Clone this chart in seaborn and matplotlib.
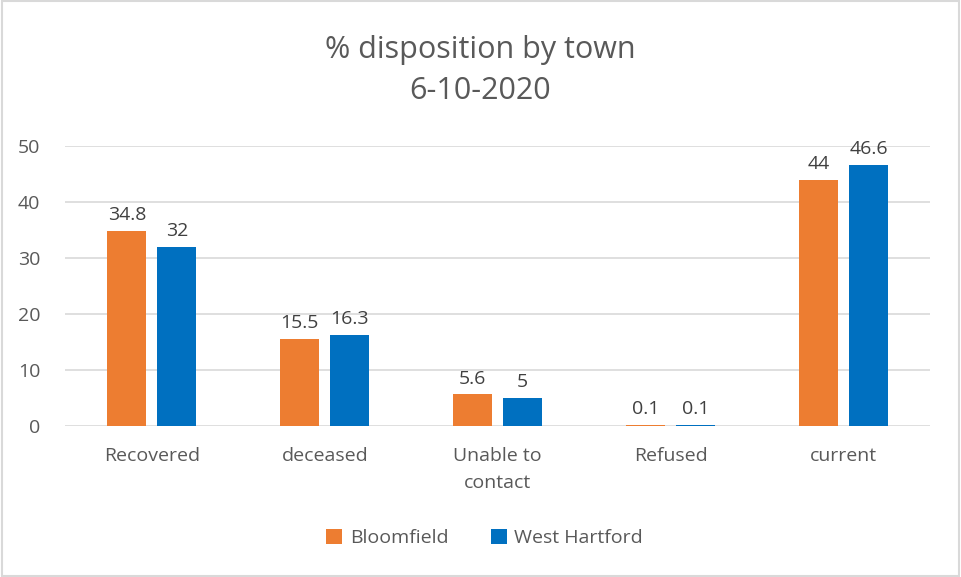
import pandas as pd
import matplotlib.pyplot as plt
import seaborn as sns
from matplotlib.patches import Rectangle

# data
categories = ["Recovered", "deceased", "Unable to\ncontact", "Refused", "current"]
bloomfield = [34.8, 15.5, 5.6, 0.1, 44]
west_hartford = [32, 16.3, 5, 0.1, 46.6]
towns = ["Bloomfield", "West Hartford"]
colors = ["#ED7D31", "#0070C0"]

df = pd.DataFrame({
    "category": categories * 2,
    "town": [towns[0]] * len(categories) + [towns[1]] * len(categories),
    "value": bloomfield + west_hartford,
})

sns.set_style("white")
plt.rcParams["font.family"] = ["Open Sans", "DejaVu Sans"]
text_color = "#595959"

fig = plt.figure(figsize=(9.61, 5.77), dpi=100)
ax = fig.add_axes([0.068, 0.262, 0.9, 0.485])

sns.barplot(data=df, x="category", y="value", hue="town", palette=colors,
            width=0.578, gap=0.22, ax=ax, saturation=1, legend=True, linewidth=0)

# data labels
for cont in ax.containers:
    ax.bar_label(cont, labels=[f"{v:g}" for v in cont.datavalues],
                 padding=5, fontsize=14, color="#404040")

ax.set_ylim(0, 50)
ax.set_yticks(range(0, 51, 10))
ax.set_xlim(-0.5, len(categories) - 0.5)
ax.yaxis.grid(True, color="#D9D9D9", linewidth=1.2)
ax.set_axisbelow(True)
for s in ax.spines.values():
    s.set_visible(False)
ax.set_xlabel("")
ax.set_ylabel("")
ax.tick_params(axis="both", length=0, labelsize=14, colors=text_color)
ax.tick_params(axis="x", pad=15)
ax.tick_params(axis="y", pad=18)
for lab in ax.get_xticklabels():
    lab.set_linespacing(1.7)

fig.text(0.5, 0.878, "% disposition by town\n6-10-2020", ha="center", va="center",
         fontsize=22, color=text_color, linespacing=1.45)

ax.legend(loc="center", bbox_to_anchor=(0.485, -0.40), ncol=2, frameon=False,
          fontsize=14, labelcolor=text_color, handlelength=0.8, handleheight=0.8,
          columnspacing=2.2, handletextpad=0.4)

# light chart border
fig.patches.append(Rectangle((0.002, 0.002), 0.996, 0.996, transform=fig.transFigure,
                             fill=False, edgecolor="#D9D9D9", linewidth=1.5))

plt.savefig("out.png", dpi=100)
